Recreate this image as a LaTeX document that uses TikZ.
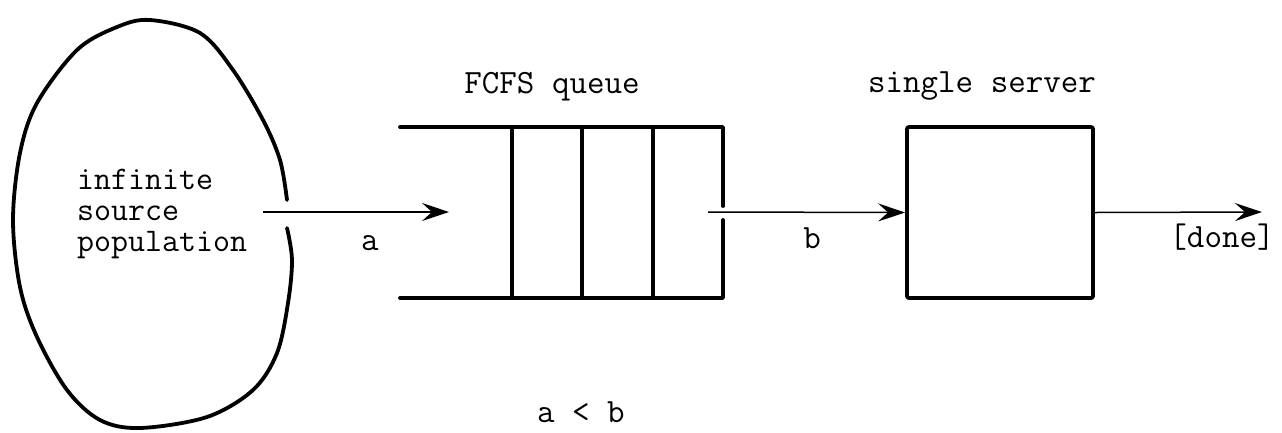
\documentclass[tikz,border=0pt]{standalone}
\usetikzlibrary{arrows.meta}

\tikzset{
  heavy/.style={line width=3.8pt, line cap=round, line join=round},
  flow/.style={line width=1.5pt, -{Stealth[length=27pt,width=18pt,inset=10pt]}},
  lbl/.style={font=\fontsize{34}{31}\selectfont\ttfamily, inner sep=0pt, anchor=base},
}

\begin{document}
\begin{tikzpicture}[x=1pt,y=-1pt]
        \useasboundingbox (0,0) rectangle (1282,432);

        % source population
        \draw[heavy] plot[smooth, tension=0.55] coordinates {
            (287,228) (292,260) (288,303) (277,353) (253,390) (207,417)
            (140,428) (100,420) (67,390) (37,337) (20,287) (13,220)
            (20,153) (37,103) (77,50) (117,27) (150,20) (200,33)
            (233,70) (263,120) (280,160) (287,200)};
        \node[lbl, align=left, anchor=west, font=\fontsize{33}{31}\selectfont\ttfamily] (src) at (77,214) {infinite\\source\\population};

        % queue
        \draw[heavy] (400,127) -- (723,127) -- (723,206);
        \draw[heavy] (723,220) -- (723,298) -- (400,298);
        \foreach \x in {512,582,653}
            \draw[heavy] (\x,127) -- (\x,298);

        % server
        \node[draw, heavy, rounded corners=2pt, minimum width=186pt, minimum height=171pt, inner sep=0pt] (server) at (1000,212.5) {};

        \coordinate (srcout) at (263,212);
        \coordinate (qin) at (449,212);
        \coordinate (qout) at (708,212);
        \coordinate (doneend) at (1262,212);

        \draw[flow] (srcout) -- (qin);
        \draw[flow] (qout) -- (server.west);
        \draw[flow] (server.east) -- (doneend);

        \node[lbl] (qlabel) at (552,93) {FCFS queue};
        \node[lbl] (slabel) at (982,92) {single server};
        \node[lbl] (alabel) at (370,250) {a};
        \node[lbl] (blabel) at (812,248) {b};
        \node[lbl] (donelabel) at (1222,247) {[done]};
        \node[lbl] (cmp) at (581,422) {a < b};
\end{tikzpicture}
\end{document}
